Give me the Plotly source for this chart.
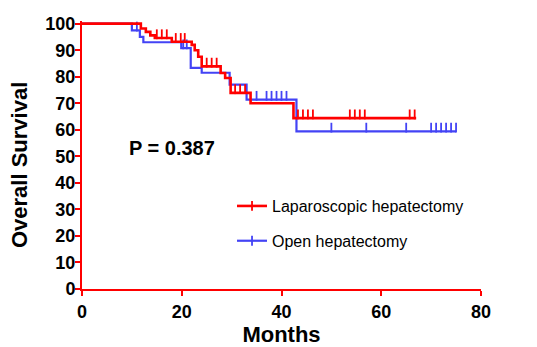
import plotly.graph_objects as go

# ---- data (months, % survival) ----
lap_times = [0, 11.8, 12.8, 13.7, 14.6, 18.0, 22.0, 22.6, 23.3, 24.0, 27.8, 28.7, 29.8, 33.8, 42.4]
lap_surv = [100, 98.2, 96.9, 95.6, 94.6, 93.2, 92.0, 90.0, 87.5, 83.9, 81.4, 79.5, 73.9, 70.0, 64.4]
lap_censor = [6.0, 7.0, 8.2, 9.2, 10.2, 11.2, 15.0, 16.0, 17.0, 18.8, 19.8, 20.6,
              25.0, 26.0, 27.0, 30.7, 31.7, 32.7, 43.3, 44.3, 45.3, 46.3,
              53.7, 54.7, 55.7, 56.7, 65.7, 66.7]
lap_end = 67.0

open_times = [0, 10.0, 11.6, 12.3, 19.9, 21.8, 24.0, 29.6, 33.0, 43.0]
open_surv = [100, 97.5, 95.0, 93.0, 90.8, 83.3, 81.5, 77.0, 71.4, 59.4]
open_censor = [11.0, 20.3, 21.0, 35.0, 37.0, 38.0, 39.0, 40.0, 41.0,
               50.0, 57.0, 65.0, 70.0, 71.0, 72.0, 73.0, 74.0, 75.0]
open_end = 75.0

x_ticks = [0, 20, 40, 60, 80]
y_ticks = list(range(0, 101, 10))
p_text = "P = 0.387"
x_title = "Months"
y_title = "Overall Survival"

RED = "#FF0000"
BLUE = "#4343F5"
FONT = "Liberation Sans, Arial, sans-serif"
TICK_UP = 1.4  # censor tick drawn upward from the curve (style offset)


def surv_at(t, times, surv):
    v = surv[0]
    for tt, s in zip(times, surv):
        if tt <= t:
            v = s
    return v


fig = go.Figure()

for name, times, surv, cens, end, col, lw in [
    ("Open hepatectomy", open_times, open_surv, open_censor, open_end, BLUE, 2.2),
    ("Laparoscopic hepatectomy", lap_times, lap_surv, lap_censor, lap_end, RED, 2.6),
]:
    fig.add_trace(go.Scatter(
        x=times + [end], y=surv + [surv[-1]], mode="lines",
        line=dict(color=col, width=lw, shape="hv"),
        showlegend=False, hoverinfo="skip"))
    fig.add_trace(go.Scatter(
        x=cens, y=[surv_at(t, times, surv) + TICK_UP for t in cens],
        mode="markers", cliponaxis=False,
        marker=dict(symbol="line-ns", size=7, line=dict(color=col, width=1.8)),
        showlegend=False, hoverinfo="skip"))

# legend entries
for name, col, lw, grp in [("Laparoscopic hepatectomy", RED, 2.6, "a"),
                           ("Open hepatectomy", BLUE, 2.2, "b")]:
    fig.add_trace(go.Scatter(
        x=[None], y=[None], mode="lines+markers", name=name, legendgroup=grp,
        line=dict(color=col, width=lw),
        marker=dict(symbol="line-ns", size=7, line=dict(color=col, width=1.8))))

fig.add_annotation(x=9.0, y=53.3, xref="x", yref="y", text="<b>" + p_text + "</b>",
                   showarrow=False, xanchor="left", yanchor="middle",
                   font=dict(family=FONT, size=20, color="black"))

# y-axis title placed as rotated text (sits a little below the axis centre in the reference)
fig.add_annotation(x=-0.155, y=0.463, xref="paper", yref="paper", text="<b>" + y_title + "</b>",
                   textangle=-90, showarrow=False, xanchor="center", yanchor="middle",
                   font=dict(family=FONT, size=22, color="black"))

axis_common = dict(showline=True, linecolor=RED, linewidth=2, ticks="outside",
                   ticklen=5, tickwidth=2, tickcolor=RED, showgrid=False,
                   zeroline=False, automargin=False,
                   tickfont=dict(family=FONT, size=18, color="black", weight="bold"))

# the page body adds an 8px offset; margins compensate so the plot area sits where the reference has it
fig.update_layout(
    width=537, height=347,
    margin=dict(l=74, r=64, t=13, b=66),
    paper_bgcolor="white", plot_bgcolor="white",
    xaxis=dict(range=[0, 80], tickvals=x_ticks,
               title=dict(text=x_title, standoff=0,
                          font=dict(family=FONT, size=22, color="black", weight="bold")),
               **axis_common),
    yaxis=dict(range=[0, 101], tickvals=y_ticks, ticklabelstandoff=-4,
               **axis_common),
    legend=dict(x=0.376, y=0.373, xanchor="left", yanchor="top",
                bgcolor="rgba(0,0,0,0)", tracegroupgap=11, traceorder="grouped",
                font=dict(family=FONT, size=16, color="black")),
)

fig.write_html("out.html")
